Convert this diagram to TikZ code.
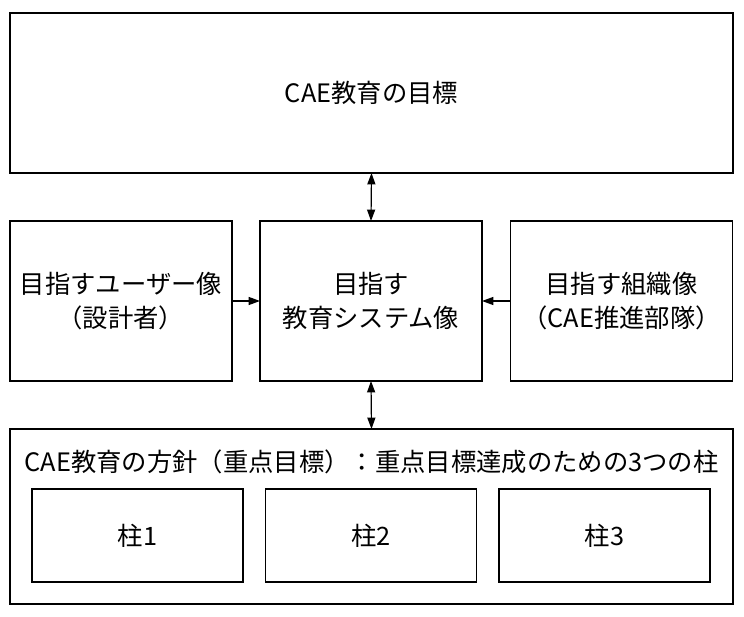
\documentclass[tikz,border=0pt]{standalone}
\usepackage{fontspec}
\setmainfont{Noto Sans CJK JP}
\usetikzlibrary{arrows.meta}

\tikzset{
  box/.style={draw,line width=0.9pt,inner sep=0pt,outer sep=0pt,align=center},
  link/.style={line width=0.9pt,-{Triangle[length=8.5pt,width=6pt]}},
  both/.style={line width=0.9pt,{Triangle[length=8.5pt,width=6pt]}-{Triangle[length=8.5pt,width=6pt]}}
}

\begin{document}
\begin{tikzpicture}[x=0.75pt,y=-0.75pt,font=\fontsize{19}{25.5}\selectfont]
 \useasboundingbox (0,0) rectangle (744,617);
 % goal
 \node[box,minimum width=542.25pt,minimum height=120pt] (goal) at (371.5,93) {CAE教育の目標};
 % three images
 \node[box,minimum width=166.5pt,minimum height=120pt] (user) at (121,301) {目指すユーザー像\\（設計者）};
 \node[box,minimum width=166.5pt,minimum height=120pt] (sys) at (371,301) {目指す\\教育システム像};
 \node[box,minimum width=166.5pt,minimum height=120pt] (org) at (621.5,301) {目指す組織像\\（CAE推進部隊）};
 % policy
 \node[box,minimum width=542.25pt,minimum height=131.25pt] (policy) at (371.5,516.5) {};
 \node (head) at (371.5,462) {CAE教育の方針（重点目標）：重点目標達成のための3つの柱};
 \node[box,minimum width=158.25pt,minimum height=69.75pt] (p1) at (137.5,535.5) {柱1};
 \node[box,minimum width=158.25pt,minimum height=69.75pt] (p2) at (371,535.5) {柱2};
 \node[box,minimum width=158.25pt,minimum height=69.75pt] (p3) at (604.5,535.5) {柱3};

 \draw[both] (goal.south) -- (sys.north);
 \draw[both] (sys.south) -- (policy.north);
 \draw[link] (user) -- (sys);
 \draw[link] (org) -- (sys);
\end{tikzpicture}
\end{document}
